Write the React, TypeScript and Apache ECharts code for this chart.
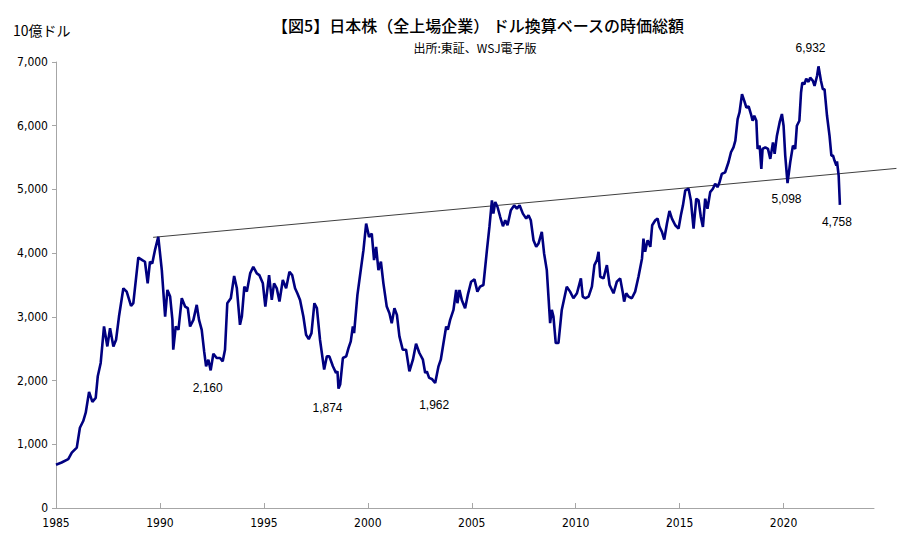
import React, { useEffect, useRef } from "react";
import * as echarts from "echarts";

const YEARS = [
  1985.0, 1985.27, 1985.59, 1985.76, 1986.0, 1986.15, 1986.31, 1986.43, 1986.59, 1986.75, 1986.91,
  1987.01, 1987.15, 1987.31, 1987.47, 1987.6, 1987.76, 1987.89, 1988.03, 1988.24, 1988.4, 1988.61,
  1988.72, 1988.96, 1989.15, 1989.28, 1989.41, 1989.52, 1989.63, 1989.76, 1989.92, 1990.09, 1990.25,
  1990.36, 1990.49, 1990.6, 1990.64, 1990.76, 1990.89, 1991.05, 1991.21, 1991.34, 1991.45, 1991.61,
  1991.77, 1991.88, 1992.01, 1992.13, 1992.22, 1992.33, 1992.44, 1992.57, 1992.73, 1992.89, 1993.02,
  1993.13, 1993.24, 1993.41, 1993.57, 1993.7, 1993.85, 1993.94, 1994.06, 1994.18, 1994.34, 1994.49,
  1994.66, 1994.78, 1994.95, 1995.07, 1995.25, 1995.38, 1995.49, 1995.62, 1995.75, 1995.91, 1996.07,
  1996.23, 1996.36, 1996.5, 1996.61, 1996.74, 1996.9, 1997.03, 1997.16, 1997.29, 1997.43, 1997.55,
  1997.7, 1997.9, 1998.03, 1998.15, 1998.32, 1998.47, 1998.54, 1998.59, 1998.67, 1998.8, 1998.96,
  1999.07, 1999.18, 1999.28, 1999.34, 1999.5, 1999.66, 1999.79, 1999.92, 2000.06, 2000.19, 2000.3,
  2000.4, 2000.51, 2000.63, 2000.75, 2000.91, 2001.04, 2001.15, 2001.28, 2001.4, 2001.52, 2001.68,
  2001.84, 2002.0, 2002.17, 2002.32, 2002.48, 2002.65, 2002.76, 2002.84, 2002.95, 2003.08, 2003.24,
  2003.4, 2003.51, 2003.64, 2003.77, 2003.85, 2003.96, 2004.12, 2004.25, 2004.31, 2004.41, 2004.52,
  2004.68, 2004.81, 2004.97, 2005.13, 2005.27, 2005.4, 2005.56, 2005.73, 2005.85, 2005.97, 2006.04,
  2006.13, 2006.24, 2006.37, 2006.5, 2006.61, 2006.72, 2006.88, 2007.04, 2007.17, 2007.3, 2007.46,
  2007.62, 2007.73, 2007.84, 2007.97, 2008.1, 2008.21, 2008.37, 2008.48, 2008.61, 2008.77, 2008.85,
  2008.93, 2009.04, 2009.17, 2009.33, 2009.57, 2009.73, 2009.89, 2010.06, 2010.25, 2010.34, 2010.46,
  2010.62, 2010.78, 2010.9, 2011.02, 2011.1, 2011.18, 2011.34, 2011.5, 2011.63, 2011.82, 2011.98,
  2012.14, 2012.27, 2012.33, 2012.43, 2012.54, 2012.7, 2012.86, 2013.02, 2013.19, 2013.26, 2013.34,
  2013.46, 2013.59, 2013.68, 2013.83, 2013.94, 2014.03, 2014.15, 2014.26, 2014.39, 2014.51, 2014.63,
  2014.79, 2014.95, 2015.06, 2015.16, 2015.27, 2015.43, 2015.54, 2015.67, 2015.8, 2015.91, 2016.02,
  2016.12, 2016.23, 2016.34, 2016.47, 2016.6, 2016.71, 2016.82, 2016.92, 2017.03, 2017.19, 2017.35,
  2017.47, 2017.59, 2017.68, 2017.79, 2017.88, 2018.0, 2018.11, 2018.21, 2018.32, 2018.43, 2018.51,
  2018.59, 2018.69, 2018.75, 2018.85, 2018.93, 2018.99, 2019.12, 2019.25, 2019.36, 2019.49, 2019.57,
  2019.68, 2019.81, 2019.92, 2020.0, 2020.08, 2020.19, 2020.32, 2020.45, 2020.56, 2020.64, 2020.76,
  2020.84, 2020.9, 2021.0, 2021.09, 2021.2, 2021.28, 2021.41, 2021.49, 2021.61, 2021.68, 2021.8,
  2021.89, 2021.97, 2022.09, 2022.21, 2022.3, 2022.38, 2022.45, 2022.54, 2022.57, 2022.65, 2022.71,
];

// market cap, billions of USD
const MARKET_CAP = [
  680, 714, 766, 870, 948, 1260, 1365, 1495, 1823, 1667, 1729,
  2068, 2276, 2849, 2536, 2823, 2536, 2641, 3005, 3448, 3396, 3172,
  3214, 3932, 3891, 3865, 3526, 3865, 3839, 4047, 4255, 3734, 3005,
  3422, 3318, 2953, 2484, 2849, 2797, 3292, 3161, 3136, 2849, 2953,
  3188, 2953, 2797, 2450, 2224, 2328, 2160, 2422, 2354, 2354, 2302,
  2484, 3214, 3292, 3641, 3448, 2875, 3005, 3474, 3396, 3682, 3786,
  3682, 3656, 3526, 3161, 3656, 3266, 3526, 3448, 3240, 3578, 3448,
  3708, 3656, 3448, 3370, 3266, 3005, 2719, 2651, 2745, 3214, 3136,
  2641, 2172, 2380, 2380, 2224, 2120, 2145, 1874, 1938, 2354, 2380,
  2510, 2615, 2849, 2745, 3344, 3734, 4047, 4464, 4255, 4307, 3891,
  4099, 3734, 3865, 3526, 3161, 3057, 2901, 3136, 3031, 2693, 2484,
  2484, 2145, 2328, 2578, 2433, 2328, 2120, 2145, 2042, 2026, 1962,
  2224, 2328, 2589, 2849, 2797, 2953, 3109, 3422, 3214, 3422, 3266,
  3136, 3344, 3552, 3589, 3396, 3474, 3500, 4047, 4411, 4828, 4620,
  4802, 4724, 4567, 4422, 4516, 4438, 4672, 4750, 4698, 4750, 4620,
  4542, 4594, 4516, 4203, 4099, 4151, 4333, 3995, 3734, 2901, 3109,
  3005, 2589, 2589, 3109, 3474, 3396, 3292, 3370, 3604, 3318, 3292,
  3318, 3474, 3813, 3891, 4021, 3630, 3604, 3813, 3500, 3370, 3552,
  3604, 3370, 3240, 3370, 3318, 3292, 3396, 3630, 3917, 4229, 4021,
  4203, 4099, 4438, 4516, 4542, 4411, 4333, 4214, 4464, 4661, 4542,
  4438, 4386, 4594, 4750, 4984, 5011, 4828, 4386, 4855, 4828, 4567,
  4411, 4855, 4698, 4958, 5011, 5089, 5036, 5114, 5245, 5270, 5427,
  5583, 5661, 5766, 6105, 6208, 6495, 6391, 6286, 6302, 6183, 6078,
  6156, 6078, 5636, 5688, 5323, 5636, 5661, 5636, 5479, 5739, 5558,
  5844, 6052, 6183, 6000, 5531, 5098, 5427, 5688, 5636, 6000, 6078,
  6521, 6677, 6651, 6739, 6688, 6755, 6703, 6625, 6781, 6932, 6703,
  6573, 6573, 6156, 5844, 5531, 5531, 5453, 5375, 5438, 5219, 4758,
];

// annotated points
const LABEL_YEARS = [1992.44, 1998.59, 2003.24, 2021.68, 2020.19, 2022.71];
const LABEL_VALUES = [2160, 1874, 1962, 6932, 5098, 4758];
const LABEL_OFFSETS = [[-3, 18], [-11, 19], [-1, 22], [-8, -18], [-1, 16], [-3, 17]];

// resistance line from the 1989 peak (runs past the end of the axis)
const TREND_YEARS = [1989.67, 2025.43];
const TREND_VALUES = [4248, 5330];

const YEAR_TICKS = [1985, 1990, 1995, 2000, 2005, 2010, 2015, 2020];
const Y_MIN = 0;
const Y_MAX = 7000;
const Y_STEP = 1000;

const TITLE = "【図5】日本株（全上場企業） ドル換算ベースの時価総額";
const SUBTITLE = "出所:東証、WSJ電子版";
const UNIT = "10億ドル";

const NARROW = "'DejaVu Sans Condensed', 'Liberation Sans Narrow', 'Liberation Sans', sans-serif";
const CJK = "'Noto Sans CJK JP', sans-serif";

export default function App() {
  const ref = useRef<HTMLDivElement>(null);
  useEffect(() => {
    if (!ref.current) return;
    const chart = echarts.init(ref.current, undefined, { renderer: "svg" });
    const fmt = (v: number) => v.toLocaleString("en-US");
    chart.setOption({
      animation: false,
      backgroundColor: "#ffffff",
      title: [
        {
          text: TITLE,
          left: 473,
          top: 12,
          textAlign: "center",
          textStyle: { fontFamily: CJK, fontSize: 16, fontWeight: 500, color: "#000" },
        },
        {
          text: SUBTITLE,
          left: 470,
          top: 36,
          textAlign: "center",
          textStyle: { fontFamily: CJK, fontSize: 12, fontWeight: "normal", color: "#000" },
        },
        {
          text: UNIT,
          left: 8,
          top: 18,
          textStyle: { fontFamily: CJK, fontSize: 14, fontWeight: "normal", color: "#000" },
        },
      ],
      grid: { left: 56, right: 26, top: 62, bottom: 41, outerBoundsMode: "none" },
      xAxis: {
        type: "value",
        min: 1985,
        max: 2024.35,
        interval: 5,
        splitLine: { show: false },
        axisLine: { show: true, lineStyle: { color: "#a6a6a6", width: 1 } },
        axisTick: { show: true, inside: true, length: 5, customValues: YEAR_TICKS, lineStyle: { color: "#a6a6a6" } },
        axisLabel: {
          customValues: YEAR_TICKS,
          margin: 9,
          fontFamily: NARROW,
          fontSize: 12,
          color: "#000",
          formatter: (v: number) => String(v),
        },
      },
      yAxis: {
        type: "value",
        min: Y_MIN,
        max: Y_MAX,
        interval: Y_STEP,
        splitLine: { show: false },
        axisLine: { show: true, lineStyle: { color: "#a6a6a6", width: 1 } },
        axisTick: { show: true, length: 4, lineStyle: { color: "#a6a6a6" } },
        axisLabel: { fontFamily: NARROW, fontSize: 12, color: "#000", margin: 8, formatter: (v: number) => fmt(v) },
      },
      series: [
        {
          type: "custom",
          clip: false,
          z: 3,
          data: [[TREND_YEARS[0], TREND_VALUES[0], TREND_YEARS[1], TREND_VALUES[1]]],
          renderItem: (_params: any, api: any) => {
            const p1 = api.coord([api.value(0), api.value(1)]);
            const p2 = api.coord([api.value(2), api.value(3)]);
            return {
              type: "line",
              shape: { x1: p1[0], y1: p1[1], x2: p2[0], y2: p2[1] },
              style: { stroke: "#404040", lineWidth: 1 },
            };
          },
        },
        {
          type: "line",
          data: YEARS.map((y, i) => [y, MARKET_CAP[i]]),
          symbol: "none",
          lineStyle: { color: "#000080", width: 2.6 },
          z: 4,
          markPoint: {
            symbol: "circle",
            symbolSize: 1,
            itemStyle: { color: "rgba(0,0,0,0)" },
            label: {
              show: true,
              position: "inside",
              fontFamily: "'Liberation Sans', Arial, sans-serif",
              fontSize: 12,
              color: "#000",
              formatter: (p: any) => fmt(p.value),
            },
            data: LABEL_YEARS.map((y, i) => ({
              coord: [y, LABEL_VALUES[i]],
              value: LABEL_VALUES[i],
              label: { offset: LABEL_OFFSETS[i] },
            })),
          },
        },
      ],
    });
    return () => chart.dispose();
  }, []);
  return (
    <div
      ref={ref}
      style={{ position: "fixed", left: 0, top: 0, width: 900, height: 549, background: "#fff" }}
    />
  );
}
